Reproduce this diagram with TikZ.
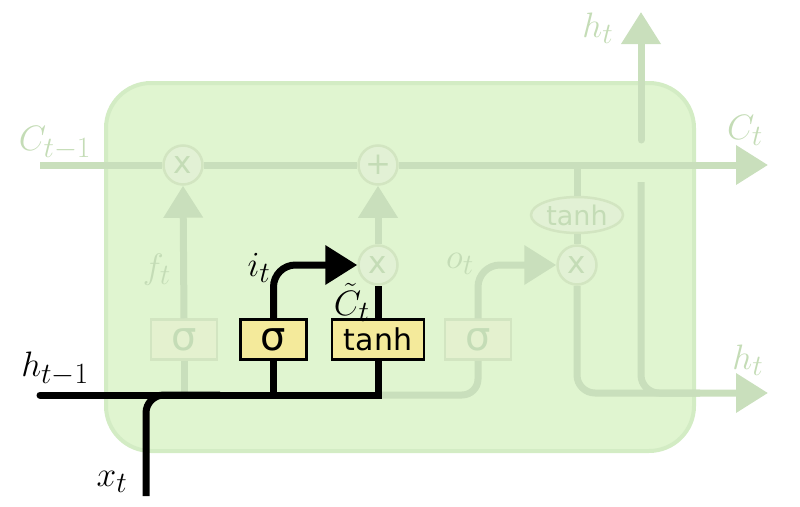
\documentclass[tikz,border=0pt]{standalone}
\usepackage{fontspec}
\newfontfamily\dejavu{DejaVu Sans}
\usetikzlibrary{arrows.meta,shapes.geometric}
\definecolor{cellfill}{RGB}{224,245,208}
\definecolor{celledge}{RGB}{211,236,196}
\definecolor{pale}{RGB}{201,223,188}
\definecolor{paletext}{RGB}{196,220,182}
\definecolor{palebox}{RGB}{228,241,207}
\definecolor{paleedge}{RGB}{210,229,193}
\definecolor{opfill}{RGB}{226,241,213}
\definecolor{gatefill}{RGB}{244,234,155}
\begin{document}
\begin{tikzpicture}[x=1pt, y=-1pt,
  tip/.style={-{Triangle[length=32pt,width=38pt]}},
  paleline/.style={draw=pale, line width=7pt},
  blackline/.style={draw=black, line width=7pt},
  op/.style={circle, minimum size=39pt, inner sep=0pt, fill=opfill, draw=paleedge, line width=2.5pt, text=paletext, font=\dejavu\fontsize{31}{31}\selectfont},
  palegate/.style={rectangle, minimum height=40pt, inner sep=0pt, fill=palebox, draw=paleedge, line width=2.5pt, text=paletext},
  gate/.style={rectangle, minimum height=40pt, inner sep=0pt, fill=gatefill, draw=black, line width=2.5pt, text=black},
  sig/.style={minimum width=66pt, font=\dejavu\fontsize{40}{40}\selectfont},
  lbl/.style={font=\fontsize{24.88}{30}\selectfont, scale=1.42, transform shape, inner sep=0pt},
  palelbl/.style={lbl, text=paletext}]
\useasboundingbox (0,0) rectangle (800,506);
\draw[fill=cellfill, draw=celledge, line width=4pt, rounded corners=45pt] (106,83) rectangle (694,451);
\coordinate (cin) at (40,165);
\coordinate (cout) at (768,165);
\coordinate (hin) at (40,395);
\coordinate (hout) at (768,393);
\coordinate (hmid) at (700,393);
\coordinate (xin) at (146,496);
\coordinate (hjoin) at (220,395);
\coordinate (hup) at (641,140);
\coordinate (htop) at (641,12);
\coordinate (hdown) at (641,182);
\node[op] (mf) at (183,165){x};
\node[op] (ad) at (378,165){+};
\node[op] (mi) at (378,265){x};
\node[op] (mo) at (577,265){x};
\node[palegate, sig] (sf) at (184,339.5){σ};
\node[gate, sig] (si) at (273.5,339.5){σ};
\node[gate, minimum width=92pt, font=\dejavu\fontsize{30}{30}\selectfont] (tc) at (378,339.5){tanh};
\node[palegate, sig] (so) at (478,339.5){σ};
\node[ellipse, minimum width=92pt, minimum height=36pt, inner sep=0pt, fill=opfill, draw=paleedge, line width=2.5pt, text=paletext, font=\dejavu\fontsize{27}{27}\selectfont] (th) at (577,215){tanh};
\draw[paleline](cin) -- (mf);
\draw[paleline](mf) -- (ad);
\draw[paleline, tip](ad) -- (cout);
\draw[paleline, tip](sf.north) -- (mf.south);
\draw[paleline, tip](mi.north) -- (ad.south);
\draw[paleline](sf.south) -- (sf.south |- hin);
\draw[paleline, rounded corners=16pt](tc.south |- hin) -| (so.south);
\draw[paleline, rounded corners=22pt, tip](so.north) |- (mo.west);
\draw[paleline](th.north |- cin) -- (th.north);
\draw[paleline](th.south) -- (mo.north);
\draw[paleline, rounded corners=18pt, tip](mo.south) |- (hout);
\draw[paleline, rounded corners=18pt](hdown) |- (hmid);
\draw[paleline, line cap=round, tip](hup) -- (htop);
\draw[blackline, line cap=round](hin) -| (tc.south);
\draw[blackline, rounded corners=18pt](xin) |- (hjoin);
\draw[blackline](si.south) -- (si.south |- hin);
\draw[blackline](tc.north) -- (mi.south);
\draw[blackline, rounded corners=22pt, tip](si.north) |- (mi.west);
\node[gate, sig] at (si){σ};
\node[gate, minimum width=92pt, font=\dejavu\fontsize{30}{30}\selectfont] at (tc){tanh};
\node[palelbl] (lcin) at (55,143){$C_{t-1}$};
\node[palelbl] (lcout) at (745,130){$C_t$};
\node[palelbl] (lhtop) at (598,28){$h_t$};
\node[palelbl] (lhout) at (748,360){$h_t$};
\node[palelbl] (lft) at (157,270){$f_t$};
\node[palelbl] (lot) at (460,264){$o_t$};
\node[lbl] (lit) at (259,268){$i_t$};
\node[lbl, anchor=east] (lct) at (370,302){$\tilde{C}_t$};
\node[lbl] (lhin) at (55,369){$h_{t-1}$};
\node[lbl] (lxt) at (112,482){$x_t$};
\end{tikzpicture}
\end{document}
